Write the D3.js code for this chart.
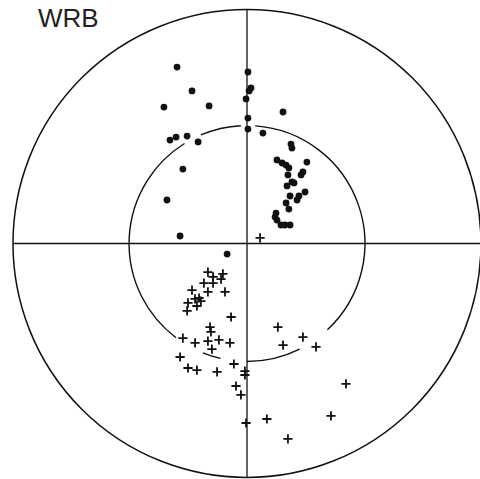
<!DOCTYPE html>
<html><head><meta charset="utf-8">
<script src="https://cdn.jsdelivr.net/npm/d3@7"></script>
<style>html,body{margin:0;padding:0;background:#fff;}svg{display:block;}</style>
</head><body>
<svg id="c" width="480" height="479"></svg>
<script>
// Data in % of the primitive circle radius (x: east, y: north)
const title = "WRB";
const dotsX = [-29.9,-23.5,-35.5,-16.2,-32.9,-30.3,-25.6,-20.9,-27.4,-34.2,-28.6,-8.5,
  0.4,1.7,0.9,-0.4,0.4,0.4,15.4,6.8,18.8,19.2,12.8,15.0,16.7,17.9,25.6,23.9,23.1,17.5,
  19.2,20.1,17.1,24.8,22.2,21.4,18.4,16.7,17.9,12.4,12.0,12.8,14.5,16.2,18.4];
const dotsY = [75.4,65.2,58.3,58.8,44.2,45.5,45.9,43.4,31.8,18.6,3.2,-4.5,
  73.3,66.5,65.2,61.8,53.6,48.9,56.2,47.2,42.5,40.8,35.7,34.4,33.5,32.3,34.8,30.6,29.3,29.3,
  26.3,25.9,24.6,22.0,20.3,18.6,20.3,17.3,14.7,13.0,11.3,10.0,7.9,7.9,7.9];
const crossX = [5.6,-16.7,-14.5,-10.3,-11.1,-18.4,-14.5,-23.5,-16.7,-9.4,-22.2,-20.5,-19.7,
  -25.2,-21.4,-25.6,-6.8,-15.8,-15.4,-27.4,-22.2,-16.7,-12.0,-7.3,-15.0,-28.6,-25.2,-21.4,
  -12.8,-5.6,-0.9,-0.9,-4.7,-2.6,-0.4,8.5,17.5,35.9,42.3,13.2,23.9,15.4,29.5];
const crossY = [2.4,-12.2,-14.3,-13.0,-15.2,-16.9,-16.9,-19.9,-20.7,-20.7,-23.7,-23.3,-24.6,
  -25.4,-26.7,-28.8,-31.4,-35.7,-37.8,-40.4,-42.5,-41.7,-41.2,-42.5,-45.1,-48.5,-53.2,-54.1,
  -54.9,-51.5,-54.5,-56.2,-60.9,-64.7,-76.7,-75.0,-83.5,-73.7,-60.0,-35.7,-40.0,-43.4,-44.2];
// inner reference circle (radius in %), drawn as arcs [start, end] azimuth degrees
const innerRadius = 50.4;
const innerArcs = [[4,137],[153.5,180],[193,202],[217,328],[337,357]];

const svg = d3.select("#c");
const cx = 247, cy = 243.5, R = 234;
const x = d3.scaleLinear().domain([-100,100]).range([cx-R, cx+R]);
const y = d3.scaleLinear().domain([-100,100]).range([cy+R, cy-R]);
const rs = d3.scaleLinear().domain([0,100]).range([0,R]);
const ink = "#111";

svg.append("circle").attr("cx", x(0)).attr("cy", y(0)).attr("r", rs(100))
  .attr("fill","none").attr("stroke",ink).attr("stroke-width",1.5);
svg.append("line").attr("x1",x(-100)).attr("x2",x(100)).attr("y1",y(0)).attr("y2",y(0))
  .attr("stroke",ink).attr("stroke-width",1.3);
svg.append("line").attr("x1",x(0)).attr("x2",x(0)).attr("y1",y(100)).attr("y2",y(-100))
  .attr("stroke",ink).attr("stroke-width",1.3);

const arc = d3.arc().innerRadius(rs(innerRadius)).outerRadius(rs(innerRadius));
svg.append("g").attr("transform",`translate(${x(0)},${y(0)})`)
  .selectAll("path").data(innerArcs).join("path")
  .attr("d", d => arc({startAngle: d[0]*Math.PI/180, endAngle: d[1]*Math.PI/180}))
  .attr("fill","none").attr("stroke",ink).attr("stroke-width",1.4);

const dots = dotsX.map((v,i)=>({x:v,y:dotsY[i]}));
svg.append("g").selectAll("circle").data(dots).join("circle")
  .attr("cx", d=>x(d.x)).attr("cy", d=>y(d.y)).attr("r",3.4).attr("fill",ink);

const crosses = crossX.map((v,i)=>({x:v,y:crossY[i]}));
const h = 4.6;
svg.append("g").selectAll("path").data(crosses).join("path")
  .attr("d", d=>`M${x(d.x)-h},${y(d.y)}H${x(d.x)+h}M${x(d.x)},${y(d.y)-h}V${y(d.y)+h}`)
  .attr("stroke",ink).attr("stroke-width",1.8).attr("fill","none");

svg.append("text").attr("x",38).attr("y",27).text(title)
  .attr("font-family","Liberation Sans, Arial, sans-serif").attr("font-size",26)
  .attr("fill","#222");
</script>
</body></html>
